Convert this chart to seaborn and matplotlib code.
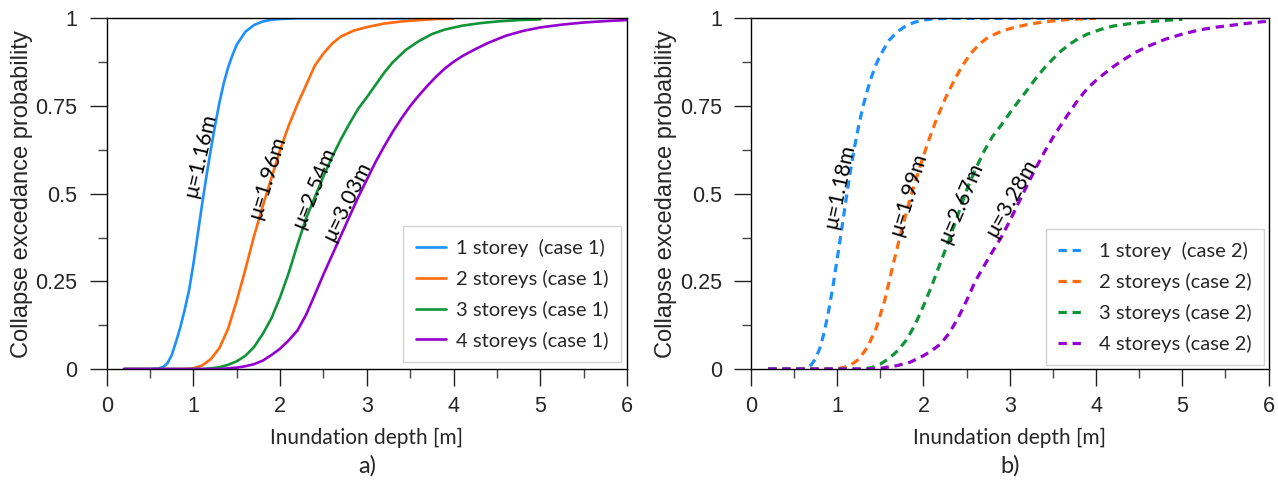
import numpy as np
import pandas as pd
import matplotlib
matplotlib.use("Agg")
import matplotlib.pyplot as plt
import seaborn as sns
from matplotlib.ticker import MultipleLocator, FixedLocator

# ---------------- data ----------------
labels_a = ["1 storey  (case 1)", "2 storeys (case 1)", "3 storeys (case 1)", "4 storeys (case 1)"]
labels_b = ["1 storey  (case 2)", "2 storeys (case 2)", "3 storeys (case 2)", "4 storeys (case 2)"]
mu_a = ["μ=1.16m", "μ=1.96m", "μ=2.54m", "μ=3.03m"]
mu_b = ["μ=1.18m", "μ=1.99m", "μ=2.67m", "μ=3.28m"]

# case 1 (solid)
d1_a = [0.2, 0.5, 0.6, 0.65, 0.7, 0.75, 0.8, 0.85, 0.9, 0.95, 1.0, 1.05, 1.1, 1.15, 1.2, 1.25,
        1.3, 1.35, 1.4, 1.45, 1.5, 1.6, 1.7, 1.8, 1.9, 2.0, 2.2, 4.0]
p1_a = [0, 0, 0.002, 0.006, 0.016, 0.04, 0.078, 0.12, 0.17, 0.225, 0.30, 0.385, 0.47, 0.55, 0.625, 0.695,
        0.76, 0.815, 0.86, 0.895, 0.925, 0.962, 0.981, 0.991, 0.996, 0.998, 1.0, 1.0]
d2_a = [0.2, 0.9, 1.0, 1.1, 1.2, 1.3, 1.4, 1.5, 1.6, 1.7, 1.8, 1.9, 2.0, 2.1, 2.2, 2.3, 2.4, 2.5,
        2.6, 2.7, 2.85, 3.0, 3.2, 3.4, 3.6, 3.8, 4.0]
p2_a = [0, 0, 0.002, 0.01, 0.028, 0.06, 0.115, 0.195, 0.285, 0.38, 0.465, 0.545, 0.625, 0.695, 0.755, 0.81, 0.865, 0.9,
        0.928, 0.948, 0.965, 0.975, 0.985, 0.991, 0.995, 0.998, 0.999]
d3_a = [0.2, 1.1, 1.2, 1.3, 1.4, 1.5, 1.6, 1.7, 1.8, 1.9, 2.0, 2.1, 2.2, 2.3, 2.4, 2.5, 2.6, 2.7, 2.8,
        2.9, 3.0, 3.1, 3.2, 3.3, 3.45, 3.6, 3.75, 3.9, 4.1, 4.3, 4.5, 4.75, 5.0]
p3_a = [0, 0, 0.002, 0.005, 0.012, 0.022, 0.038, 0.063, 0.1, 0.145, 0.205, 0.275, 0.355, 0.43, 0.49, 0.55, 0.605, 0.655, 0.70,
        0.742, 0.775, 0.81, 0.845, 0.875, 0.91, 0.935, 0.955, 0.968, 0.979, 0.986, 0.991, 0.995, 0.997]
d4_a = [0.2, 1.3, 1.4, 1.5, 1.6, 1.7, 1.8, 1.9, 2.0, 2.1, 2.2, 2.3, 2.4, 2.5, 2.6, 2.7, 2.8, 2.9, 3.0,
        3.1, 3.2, 3.3, 3.4, 3.5, 3.6, 3.7, 3.8, 3.9, 4.0, 4.1, 4.25, 4.4, 4.6, 4.8, 5.0, 5.25, 5.5, 5.75, 6.0]
p4_a = [0, 0, 0.002, 0.004, 0.008, 0.014, 0.024, 0.04, 0.058, 0.082, 0.11, 0.155, 0.212, 0.27, 0.325, 0.38, 0.435, 0.49, 0.54,
        0.59, 0.635, 0.677, 0.715, 0.75, 0.78, 0.808, 0.834, 0.857, 0.876, 0.892, 0.912, 0.93, 0.95, 0.964, 0.974, 0.982, 0.988, 0.992, 0.995]

# case 2 (dashed)
d1_b = [0.2, 0.55, 0.6, 0.65, 0.7, 0.75, 0.8, 0.85, 0.9, 0.95, 1.0, 1.05, 1.1, 1.15, 1.2, 1.25, 1.3,
        1.35, 1.4, 1.45, 1.5, 1.6, 1.7, 1.8, 1.9, 2.0, 2.1, 2.3, 4.0]
p1_b = [0, 0, 0.001, 0.004, 0.012, 0.03, 0.06, 0.105, 0.165, 0.235, 0.315, 0.395, 0.48, 0.56, 0.632, 0.695, 0.75,
        0.795, 0.835, 0.868, 0.895, 0.937, 0.962, 0.979, 0.989, 0.995, 0.998, 1.0, 1.0]
d2_b = [0.2, 0.95, 1.05, 1.15, 1.25, 1.35, 1.45, 1.55, 1.65, 1.75, 1.85, 1.95, 2.05, 2.15, 2.25, 2.35,
        2.45, 2.55, 2.65, 2.75, 2.9, 3.05, 3.2, 3.4, 3.7, 4.0]
p2_b = [0, 0, 0.003, 0.01, 0.028, 0.062, 0.115, 0.195, 0.30, 0.40, 0.49, 0.57, 0.645, 0.712, 0.77, 0.82,
        0.865, 0.90, 0.927, 0.946, 0.963, 0.974, 0.982, 0.99, 0.997, 1.0]
d3_b = [0.2, 1.3, 1.4, 1.5, 1.6, 1.7, 1.8, 1.9, 2.0, 2.1, 2.2, 2.3, 2.4, 2.5, 2.6, 2.7, 2.8, 2.9, 3.0,
        3.1, 3.2, 3.3, 3.4, 3.5, 3.6, 3.7, 3.8, 3.9, 4.05, 4.2, 4.4, 4.6, 4.8, 5.0]
p3_b = [0, 0, 0.004, 0.014, 0.03, 0.052, 0.082, 0.125, 0.18, 0.24, 0.305, 0.37, 0.44, 0.51, 0.568, 0.62, 0.663, 0.695, 0.73,
        0.763, 0.795, 0.828, 0.858, 0.884, 0.908, 0.927, 0.943, 0.955, 0.968, 0.978, 0.985, 0.99, 0.994, 0.997]
d4_b = [0.2, 1.45, 1.55, 1.7, 1.85, 2.0, 2.1, 2.2, 2.3, 2.4, 2.5, 2.6, 2.7, 2.8, 2.9, 3.0, 3.1, 3.2, 3.3,
        3.4, 3.5, 3.6, 3.7, 3.8, 3.9, 4.0, 4.1, 4.2, 4.3, 4.45, 4.6, 4.8, 5.0, 5.2, 5.4, 5.6, 5.8, 6.0]
p4_b = [0, 0, 0.004, 0.01, 0.02, 0.038, 0.053, 0.072, 0.103, 0.145, 0.195, 0.25, 0.293, 0.335, 0.375, 0.422, 0.473, 0.523, 0.572,
        0.618, 0.66, 0.698, 0.735, 0.77, 0.80, 0.823, 0.843, 0.862, 0.879, 0.902, 0.92, 0.94, 0.955, 0.967, 0.975, 0.981, 0.987, 0.992]

colors = ["#1E8FFF", "#FF6A0D", "#119438", "#9300D0"]

# label anchor positions (depth, probability, rotation)
mu_pos_a = [(1.08, 0.61, 77), (1.85, 0.548, 73), (2.39, 0.516, 68), (2.77, 0.48, 64)]
mu_pos_b = [(1.03, 0.52, 78), (1.83, 0.50, 73), (2.44, 0.474, 67), (3.02, 0.487, 61)]

# ---------------- styling ----------------
sns.set_style("ticks")
plt.rcParams["font.family"] = ["Liberation Sans", "DejaVu Sans"]
LAB_FONT = ["Lato", "DejaVu Sans"]

fig = plt.figure(figsize=(12.78, 4.95), dpi=100)
ax_a = fig.add_axes([0.0835, 0.2545, 0.4071, 0.7085])
ax_b = fig.add_axes([0.5876, 0.2545, 0.4050, 0.7085])


def build(ds, ps, labels):
    rows = []
    for d, p, lab in zip(ds, ps, labels):
        for x, y in zip(d, p):
            rows.append((lab, x, y))
    return pd.DataFrame(rows, columns=["series", "depth", "prob"])


df_a = build([d1_a, d2_a, d3_a, d4_a], [p1_a, p2_a, p3_a, p4_a], labels_a)
df_b = build([d1_b, d2_b, d3_b, d4_b], [p1_b, p2_b, p3_b, p4_b], labels_b)

sns.lineplot(data=df_a, x="depth", y="prob", hue="series", hue_order=labels_a,
             palette=colors, sort=False, estimator=None, linewidth=1.9, ax=ax_a)
sns.lineplot(data=df_b, x="depth", y="prob", hue="series", hue_order=labels_b,
             style="series", style_order=labels_b, dashes=[(2.6, 1.8)] * 4,
             palette=colors, sort=False, estimator=None, linewidth=2.3, ax=ax_b)


def style_axes(ax, mus, mu_pos, letter):
    ax.set_xlim(0, 6)
    ax.set_ylim(0, 1)
    ax.xaxis.set_major_locator(MultipleLocator(1))
    ax.xaxis.set_minor_locator(MultipleLocator(0.5))
    ax.yaxis.set_major_locator(FixedLocator([0, 0.25, 0.5, 0.75, 1]))
    ax.yaxis.set_minor_locator(FixedLocator([0.125, 0.375, 0.625, 0.875]))
    ax.set_yticklabels(["0", "0.25", "0.5", "0.75", "1"])
    ax.tick_params(axis="both", which="major", direction="out", length=12.5,
                   width=1.0, color="#222222", labelsize=15.5, pad=8.5)
    ax.tick_params(axis="both", which="minor", direction="out", length=6.5,
                   width=1.0, color="#444444")
    ax.tick_params(axis="x", which="major", pad=7)
    for s in ax.spines.values():
        s.set_visible(True)
        s.set_color("black")
        s.set_linewidth(1.0)
    ax.set_xlabel("Inundation depth [m]", fontsize=15, family=LAB_FONT, labelpad=8)
    ax.set_ylabel("Collapse excedance probability", fontsize=17, labelpad=2)
    for t, (x, y, r) in zip(mus, mu_pos):
        ax.text(x, y, t, rotation=r, rotation_mode="anchor", ha="center", va="center",
                fontsize=15.5, family=LAB_FONT, color="black")
    ax.text(0.5, -0.277, letter, transform=ax.transAxes, ha="center", va="center",
            fontsize=17, family=LAB_FONT)


style_axes(ax_a, mu_a, mu_pos_a, "a)")
style_axes(ax_b, mu_b, mu_pos_b, "b)")

leg_kw = dict(loc="lower right", frameon=True, fancybox=False, edgecolor="#c8c8c8",
              prop={"family": LAB_FONT, "size": 14.5}, labelspacing=0.64,
              borderpad=0.62, borderaxespad=0)
leg_a = ax_a.legend(bbox_to_anchor=(0.9885, 0.02), handlelength=1.5,
                    handletextpad=0.5, **leg_kw)
leg_b = ax_b.legend(bbox_to_anchor=(0.991, 0.011), handlelength=1.25,
                    handletextpad=0.75, **leg_kw)
for leg in (leg_a, leg_b):
    leg.get_frame().set_linewidth(1.0)

fig.savefig("out.png", dpi=100)
